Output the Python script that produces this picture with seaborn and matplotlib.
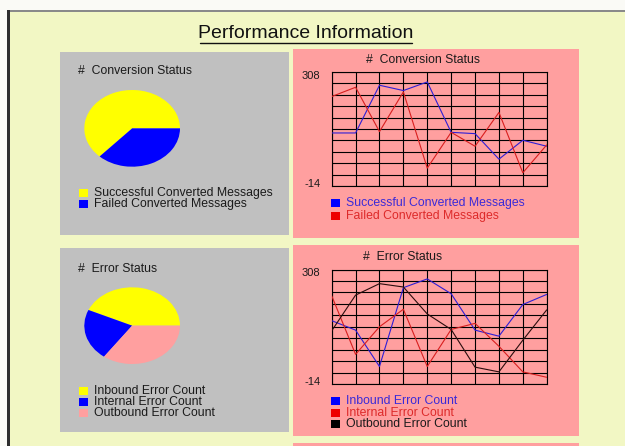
import numpy as np
import pandas as pd
import matplotlib
matplotlib.use("Agg")
import matplotlib.pyplot as plt
from matplotlib.patches import Rectangle
from matplotlib.lines import Line2D
from matplotlib.transforms import ScaledTranslation
import seaborn as sns

# ---------------- data ----------------
TITLE = "Performance Information"
conv_title = "#  Conversion Status"
err_title = "#  Error Status"

conv_labels = ["Successful Converted Messages", "Failed Converted Messages"]
conv_pie = [63.1, 36.9]
conv_success = [135.8, 135.8, 270.6, 255.6, 279.9, 137.6, 133.9, 61.8, 115.2, 98.3]
conv_failed = [238.7, 264.9, 139.5, 251.8, 36.5, 137.6, 98.3, 193.8, 23.4, 102.0]

err_labels = ["Inbound Error Count", "Internal Error Count", "Outbound Error Count"]
err_pie = [43.3, 21.7, 35.0]
err_inbound = [164.1, 137.5, 35.2, 256.9, 281.5, 239.8, 137.5, 120.5, 209.5, 237.9]
err_internal = [234.1, 69.3, 147.0, 196.2, 35.2, 139.4, 156.5, 92.1, 20.1, 4.9]
err_outbound = [135.6, 236.0, 268.2, 258.8, 183.0, 139.4, 33.4, 20.1, 109.1, 194.4]

y_min, y_max = -14, 308

# ---------------- style ----------------
sns.set_style("white")
plt.rcParams['font.family'] = ['Liberation Sans', 'DejaVu Sans']

W, H = 625, 446
BG = "#F2F7C4"
GRAY = "#C0C0C0"
PINK = "#FF9F9F"
YELLOW = "#FFFF00"
BLUE = "#0000FF"
LINE_BLUE = "#2e1ed6"
LINE_RED = "#d81e1e"
LINE_BLACK = "#2a0d0d"
TXT = "#1a1a1a"
FS = 8.8

fig = plt.figure(figsize=(W / 100, H / 100), dpi=100)
fig.patch.set_facecolor(BG)


def rect(x0, y0, x1, y1):
    return [x0 / W, 1 - y1 / H, (x1 - x0) / W, (y1 - y0) / H]


def fbox(x0, y0, x1, y1, color, z=-2):
    fig.patches.append(Rectangle((x0 / W, 1 - y1 / H), (x1 - x0) / W, (y1 - y0) / H,
                                 transform=fig.transFigure, facecolor=color,
                                 edgecolor='none', zorder=z))


def ftext(x, y, s, size=FS, color=TXT, ha='left', **kw):
    fig.text(x / W, 1 - y / H, s, fontsize=size, color=color, ha=ha, va='center', **kw)


# page frame
fbox(0, 0, W, 10, "#FAFAF6", z=-3)
fbox(0, 0, 7, H, "#FAFAF6", z=-3)
fbox(7, 10, W, 12, "#8a8a8a", z=-1)
fbox(7, 10, 9.5, H, "#2e2e2e", z=-1)

# title with underline
ftext(306, 33, TITLE, size=14, ha='center', color="#111111")
fig.lines.append(Line2D([200 / W, 412 / W], [1 - 43 / H, 1 - 43 / H],
                        transform=fig.transFigure, color="#111111", lw=1))

# panels
fbox(60, 52, 289, 235, GRAY)
fbox(60, 248, 289, 432, GRAY)
fbox(293, 49, 579, 238, PINK)
fbox(293, 245, 579, 436, PINK)
fbox(293, 443, 579, 446, PINK)


def legend(x_sq, x_txt, ys, labels, colors, tcolors):
    for y, lab, c, tc in zip(ys, labels, colors, tcolors):
        fbox(x_sq, y - 4, x_sq + 9, y + 4, c, z=2)
        ftext(x_txt, y, lab, color=tc)


# ---------------- pies ----------------
def pie(box, values, colors):
    ax = fig.add_axes(rect(*box))
    ax.pie(values, colors=colors, startangle=0, counterclock=True,
           wedgeprops=dict(linewidth=0))
    ax.set_aspect('auto')
    ax.set_xlim(-1, 1)
    ax.set_ylim(-1, 1)
    ax.axis('off')


pie((84.3, 90, 180, 166.7), conv_pie, [YELLOW, BLUE])
ftext(78, 71, conv_title)
legend(79, 94, [193, 204], conv_labels, [YELLOW, BLUE], [TXT, TXT])

pie((84.3, 287.3, 180, 364), err_pie, [YELLOW, BLUE, PINK])
ftext(78, 269, err_title)
legend(79, 94, [391, 402, 413], err_labels, [YELLOW, BLUE, PINK], [TXT, TXT, TXT])


# ---------------- line charts ----------------
def linechart(box, series, names, colors):
    ax = fig.add_axes(rect(*box))
    ax.set_facecolor('none')
    rows = []
    for name, vals in zip(names, series):
        for i, v in enumerate(vals):
            rows.append({"idx": i, "value": v, "series": name})
    df = pd.DataFrame(rows)
    sns.lineplot(data=df, x="idx", y="value", hue="series", hue_order=names,
                 palette=dict(zip(names, colors)), legend=False, ax=ax,
                 linewidth=0.8, zorder=3)
    n = len(series[0])
    ax.set_xlim(0, n - 1)
    ax.set_ylim(y_min, y_max)
    ax.set_xticks(range(n))
    yt = np.linspace(y_min, y_max, 11)
    ax.set_yticks(yt)
    ax.set_yticklabels([str(y_min)] + [''] * 9 + [str(y_max)], fontsize=8, color=TXT)
    ax.tick_params(length=0, labelbottom=False, pad=8)
    labs = ax.get_yticklabels()
    labs[0].set_transform(labs[0].get_transform() + ScaledTranslation(0, 3 / 100, fig.dpi_scale_trans))
    labs[-1].set_transform(labs[-1].get_transform() + ScaledTranslation(0, -3 / 100, fig.dpi_scale_trans))
    ax.grid(True, color='black', lw=0.8)
    ax.set_axisbelow(True)
    for s in ax.spines.values():
        s.set_color('black')
        s.set_linewidth(0.8)
    ax.set_xlabel('')
    ax.set_ylabel('')
    return ax


linechart((331.7, 72, 546.7, 186), [conv_success, conv_failed], conv_labels,
          [LINE_BLUE, LINE_RED])
ftext(366, 60, conv_title)
legend(331, 346, [203.5, 215.5], conv_labels, [BLUE, "#EE0000"], ["#3a2ad8", "#dd2a2a"])

linechart((331.7, 269.5, 546.7, 384), [err_inbound, err_internal, err_outbound], err_labels,
          [LINE_BLUE, LINE_RED, LINE_BLACK])
ftext(363, 257, err_title)
legend(331, 346, [401, 412.5, 424], err_labels, [BLUE, "#EE0000", "#000000"],
       ["#3a2ad8", "#dd2a2a", TXT])

fig.savefig("out.png", dpi=100, facecolor=fig.get_facecolor())
